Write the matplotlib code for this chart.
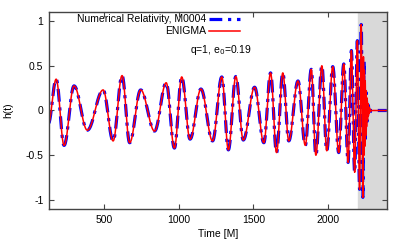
import numpy as np
import matplotlib
matplotlib.use('Agg')
import matplotlib.pyplot as plt

plt.rcParams['font.family'] = ['Liberation Sans', 'DejaVu Sans']
plt.rcParams['axes.unicode_minus'] = False

# extrema of the waveform (time [M], h)
ext_t = [125, 178, 231, 298, 387, 493, 560, 620, 671, 745, 838, 916, 971, 1020,
         1076, 1149, 1227, 1289, 1333, 1383, 1433, 1509, 1571, 1616, 1656, 1698,
         1738, 1800, 1849, 1889, 1920, 1960, 1993, 2033, 2073, 2107, 2136, 2158,
         2180, 2198, 2213, 2224, 2235]
ext_h = [-0.15, 0.35, -0.39, 0.275, -0.22, 0.23, -0.34, 0.39, -0.36, 0.23, -0.23,
         0.31, -0.42, 0.375, -0.32, 0.24, -0.34, 0.375, -0.44, 0.38, -0.33, 0.26,
         -0.36, 0.42, -0.47, 0.42, -0.34, 0.33, -0.39, 0.46, -0.50, 0.50, -0.45,
         0.49, -0.47, 0.52, -0.58, 0.67, -0.69, 0.78, -0.88, 0.96, -0.97]

# ringdown, NR
nr_rd_t = [2243, 2250, 2257, 2264, 2271, 2278, 2290, 2400]
nr_rd_h = [0.55, -0.35, 0.2, -0.12, 0.06, -0.03, 0.0, 0.0]

# ringdown, ENIGMA (denser wiggles)
en_rd_t = [2239, 2242, 2245, 2248, 2251, 2254, 2257, 2260, 2263, 2266, 2269,
           2272, 2275, 2278, 2282, 2286, 2292, 2400]
en_rd_h = [0.6, -0.5, 0.45, -0.4, 0.33, -0.28, 0.22, -0.18, 0.14, -0.11, 0.08,
           -0.06, 0.04, -0.03, 0.02, -0.01, 0.0, 0.0]


def wave(tt, hh, n=24):
    # half-cosine segments between neighbouring extrema
    xs, ys = [], []
    for i in range(len(tt) - 1):
        s = np.linspace(0, 1, n, endpoint=False)
        xs.append(tt[i] + (tt[i + 1] - tt[i]) * s)
        ys.append(hh[i] + (hh[i + 1] - hh[i]) * (1 - np.cos(np.pi * s)) / 2)
    xs.append([tt[-1]])
    ys.append([hh[-1]])
    return np.concatenate(xs), np.concatenate(ys)


nr_t, nr_h = wave(ext_t + nr_rd_t, ext_h + nr_rd_h)
en_t, en_h = wave(ext_t + en_rd_t, ext_h + en_rd_h)

fig = plt.figure(figsize=(4.03, 2.42), dpi=100)
ax = fig.add_axes([0.1216, 0.1364, 0.838, 0.814])

ax.axvspan(2200, 2400, color='#d9d9d9', zorder=0)
ax.plot(nr_t, nr_h, color='#0000ff', lw=2.3, dashes=(4, 1.8, 1, 1.8),
        label='Numerical Relativity, M0004')
ax.plot(en_t, en_h, color='#ff0000', lw=1.1, label='ENIGMA')

ax.set_xlim(130, 2395)
ax.set_ylim(-1.1, 1.1)
ax.set_xticks([500, 1000, 1500, 2000])
ax.set_yticks([-1, -0.5, 0, 0.5, 1])
ax.set_yticklabels(['-1', '-0.5', '0', '0.5', '1'])
ax.tick_params(direction='in', top=True, right=True, length=3.5, width=0.8,
               labelsize=7.5, color='#444444', pad=4)
for sp in ax.spines.values():
    sp.set_color('#444444')
    sp.set_linewidth(1.0)

ax.set_xlabel('Time [M]', fontsize=7.5, labelpad=3)
ax.set_ylabel('h(t)', fontsize=7.5, labelpad=9)

ax.legend(loc='upper right', bbox_to_anchor=(0.585, 1.02), frameon=False,
          markerfirst=False, fontsize=7.5, handlelength=3.0, handletextpad=0.3,
          labelspacing=0.2, borderaxespad=0.2)
ax.text(0.6, 0.805, 'q=1, e$_0$=0.19', transform=ax.transAxes, ha='right',
        va='center', fontsize=7.5)

fig.savefig('out.png', dpi=100)
